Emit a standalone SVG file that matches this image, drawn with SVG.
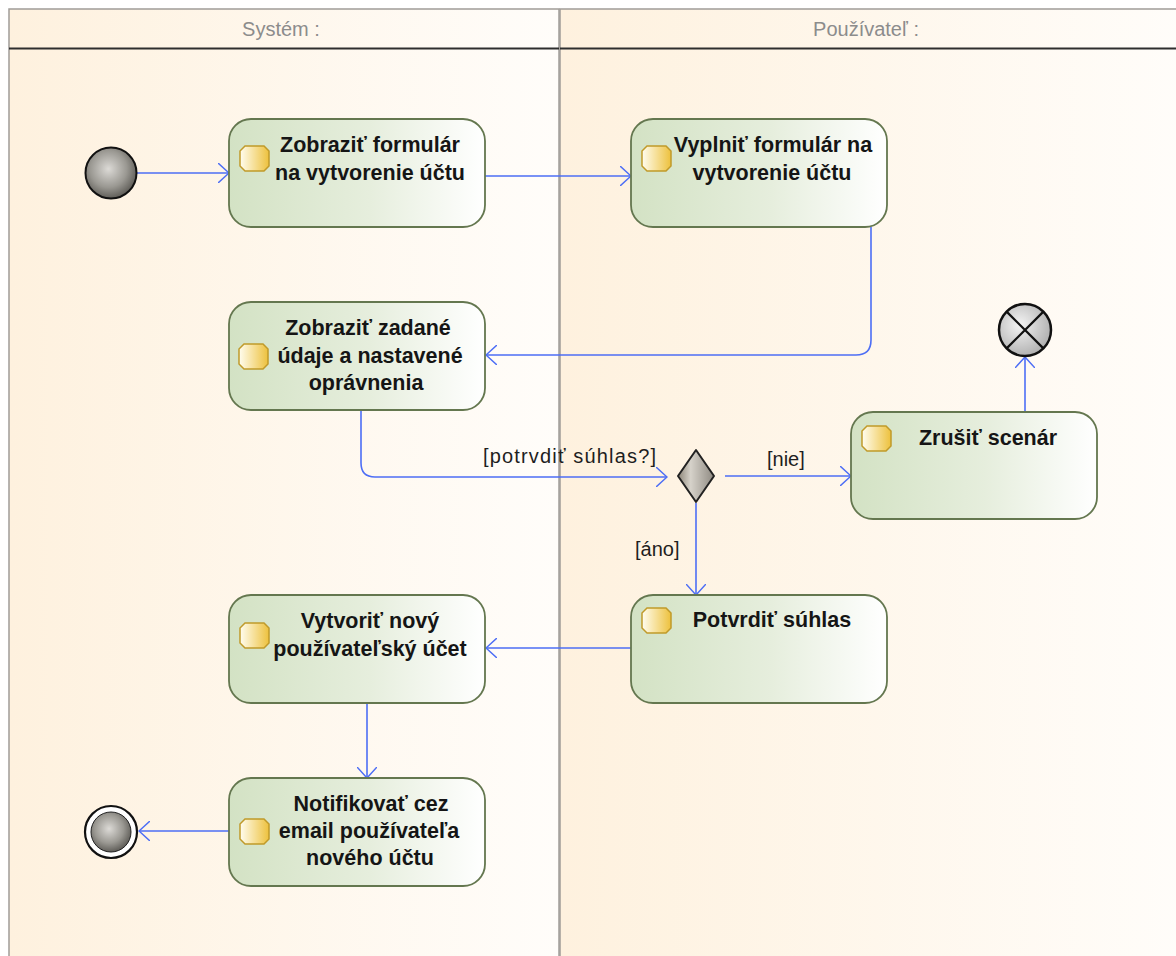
<svg xmlns="http://www.w3.org/2000/svg" width="1176" height="956" viewBox="0 0 1176 956">
  <defs>
    <linearGradient id="laneFill" x1="0" y1="0" x2="1" y2="0">
      <stop offset="0" stop-color="#fef1de"/>
      <stop offset="1" stop-color="#fffdfa"/>
    </linearGradient>
    <linearGradient id="actFill" x1="0" y1="0" x2="1" y2="0">
      <stop offset="0" stop-color="#d3e2c4"/>
      <stop offset="0.55" stop-color="#e6eedd"/>
      <stop offset="1" stop-color="#ffffff"/>
    </linearGradient>
    <linearGradient id="iconFill" x1="0" y1="0" x2="1" y2="0">
      <stop offset="0" stop-color="#fffdf0"/>
      <stop offset="1" stop-color="#edc13d"/>
    </linearGradient>
    <linearGradient id="diamondFill" x1="0" y1="0" x2="1" y2="0">
      <stop offset="0" stop-color="#8c8578"/>
      <stop offset="0.35" stop-color="#d6d2ca"/>
      <stop offset="1" stop-color="#8f8a82"/>
    </linearGradient>
    <radialGradient id="ballFill" cx="0.45" cy="0.42" r="0.6">
      <stop offset="0" stop-color="#dcdad6"/>
      <stop offset="0.6" stop-color="#9a9892"/>
      <stop offset="1" stop-color="#5a5853"/>
    </radialGradient>
    <radialGradient id="cancelFill" cx="0.4" cy="0.4" r="0.7">
      <stop offset="0" stop-color="#f4f4f4"/>
      <stop offset="1" stop-color="#a8a8a8"/>
    </radialGradient>
    <marker id="open" viewBox="0 0 12 20" refX="11" refY="10" markerWidth="12" markerHeight="20" markerUnits="userSpaceOnUse" orient="auto">
      <path d="M0,0 L11,10 L0,20" fill="none" stroke="#4d6ef5" stroke-width="1.5"/>
    </marker>
    <!-- small action pin glyph shown inside each action -->
    <path id="pin" d="M5,0 H24 L29,5 V20 L24,25 H5 L0,20 V5 Z"/>
  </defs>
  <style>
    .lane { fill: url(#laneFill); stroke: #a09c98; stroke-width: 1.5; }
    .laneTitle { font-family: "Liberation Sans", Arial, sans-serif; font-size: 20px; fill: #8c8c8c; text-anchor: middle; }
    .act { fill: url(#actFill); stroke: #64774f; stroke-width: 1.8; }
    .pin { fill: url(#iconFill); stroke: #c09a2a; stroke-width: 1.5; }
    .actText { font-family: "Liberation Sans", Arial, sans-serif; font-size: 21.5px; font-weight: bold; fill: #151515; text-anchor: middle; }
    .flow { fill: none; stroke: #4d6ef5; stroke-width: 1.6; marker-end: url(#open); }
    .guard { font-family: "Liberation Sans", Arial, sans-serif; font-size: 20px; fill: #1e1e1e; }
  </style>

  <rect width="1176" height="956" fill="#ffffff"/>

  <!-- swimlanes -->
  <g id="lane-system">
    <rect class="lane" x="9" y="9" width="550" height="960"/>
    <line x1="9" y1="48.5" x2="559" y2="48.5" stroke="#2e2e2e" stroke-width="1.8"/>
    <text class="laneTitle" x="281" y="36">Systém :</text>
  </g>
  <g id="lane-pouzivatel">
    <rect class="lane" x="560" y="9" width="630" height="960"/>
    <line x1="560" y1="48.5" x2="1176" y2="48.5" stroke="#2e2e2e" stroke-width="1.8"/>
    <text class="laneTitle" x="866" y="36">Používateľ :</text>
  </g>

  <!-- control flows -->
  <g id="connectors">
    <path class="flow" d="M136,173 H229"/>
    <path class="flow" d="M485,176 H631"/>
    <path class="flow" d="M871,227 V340 Q871,355 856,355 H486"/>
    <path class="flow" d="M361,410 V463 Q361,477 375,477 H667"/>
    <path class="flow" d="M725,476 H851"/>
    <path class="flow" d="M696,503 V595"/>
    <path class="flow" d="M1025,411 V357"/>
    <path class="flow" d="M631,648 H486"/>
    <path class="flow" d="M367,703 V778"/>
    <path class="flow" d="M229,831 H139"/>
    <text class="guard" x="483" y="463" textLength="173">[potrvdiť súhlas?]</text>
    <text class="guard" x="767" y="466">[nie]</text>
    <text class="guard" x="635" y="556">[áno]</text>
  </g>

  <!-- start -->
  <g id="start">
    <circle cx="111" cy="173" r="25.5" fill="url(#ballFill)" stroke="#111" stroke-width="2"/>
  </g>

  <g id="zobrazit-formular">
    <rect class="act" x="229" y="119" width="256" height="108" rx="22"/>
    <use href="#pin" class="pin" x="240" y="146"/>
    <text class="actText" x="370" y="152">Zobraziť formulár</text>
    <text class="actText" x="370" y="180">na vytvorenie účtu</text>
  </g>

  <g id="vyplnit-formular">
    <rect class="act" x="631" y="119" width="256" height="108" rx="22"/>
    <use href="#pin" class="pin" x="642" y="146"/>
    <text class="actText" x="773" y="152">Vyplniť formulár na</text>
    <text class="actText" x="772" y="180">vytvorenie účtu</text>
  </g>

  <g id="zobrazit-udaje">
    <rect class="act" x="229" y="302" width="256" height="108" rx="22"/>
    <use href="#pin" class="pin" x="239" y="344"/>
    <text class="actText" x="368" y="335">Zobraziť zadané</text>
    <text class="actText" x="370" y="363">údaje a nastavené</text>
    <text class="actText" x="366" y="390">oprávnenia</text>
  </g>

  <g id="rozhodnutie">
    <polygon points="696,450 714,476 696,502 678,476" fill="url(#diamondFill)" stroke="#222" stroke-width="2" stroke-linejoin="round"/>
  </g>

  <g id="zrusit-scenar">
    <rect class="act" x="851" y="412" width="246" height="107" rx="22"/>
    <use href="#pin" class="pin" x="862" y="426"/>
    <text class="actText" x="988" y="445">Zrušiť scenár</text>
  </g>

  <g id="koniec-toku">
    <circle cx="1025" cy="330" r="26" fill="url(#cancelFill)" stroke="#111" stroke-width="2.5"/>
    <path d="M1006.6,311.6 L1043.4,348.4 M1043.4,311.6 L1006.6,348.4" stroke="#111" stroke-width="2.2"/>
  </g>

  <g id="potvrdit-suhlas">
    <rect class="act" x="631" y="595" width="256" height="108" rx="22"/>
    <use href="#pin" class="pin" x="642" y="608"/>
    <text class="actText" x="772" y="627">Potvrdiť súhlas</text>
  </g>

  <g id="vytvorit-ucet">
    <rect class="act" x="229" y="595" width="256" height="108" rx="22"/>
    <use href="#pin" class="pin" x="240" y="623"/>
    <text class="actText" x="370" y="628">Vytvoriť nový</text>
    <text class="actText" x="370" y="656">používateľský účet</text>
  </g>

  <g id="notifikovat">
    <rect class="act" x="229" y="778" width="256" height="108" rx="22"/>
    <use href="#pin" class="pin" x="240" y="819"/>
    <text class="actText" x="371" y="811">Notifikovať cez</text>
    <text class="actText" x="369" y="838">email používateľa</text>
    <text class="actText" x="370" y="865">nového účtu</text>
  </g>

  <!-- final -->
  <g id="final">
    <circle cx="111" cy="832" r="26" fill="#ffffff" stroke="#111" stroke-width="2.2"/>
    <circle cx="111" cy="832" r="20" fill="url(#ballFill)" stroke="#222" stroke-width="1"/>
  </g>
</svg>
